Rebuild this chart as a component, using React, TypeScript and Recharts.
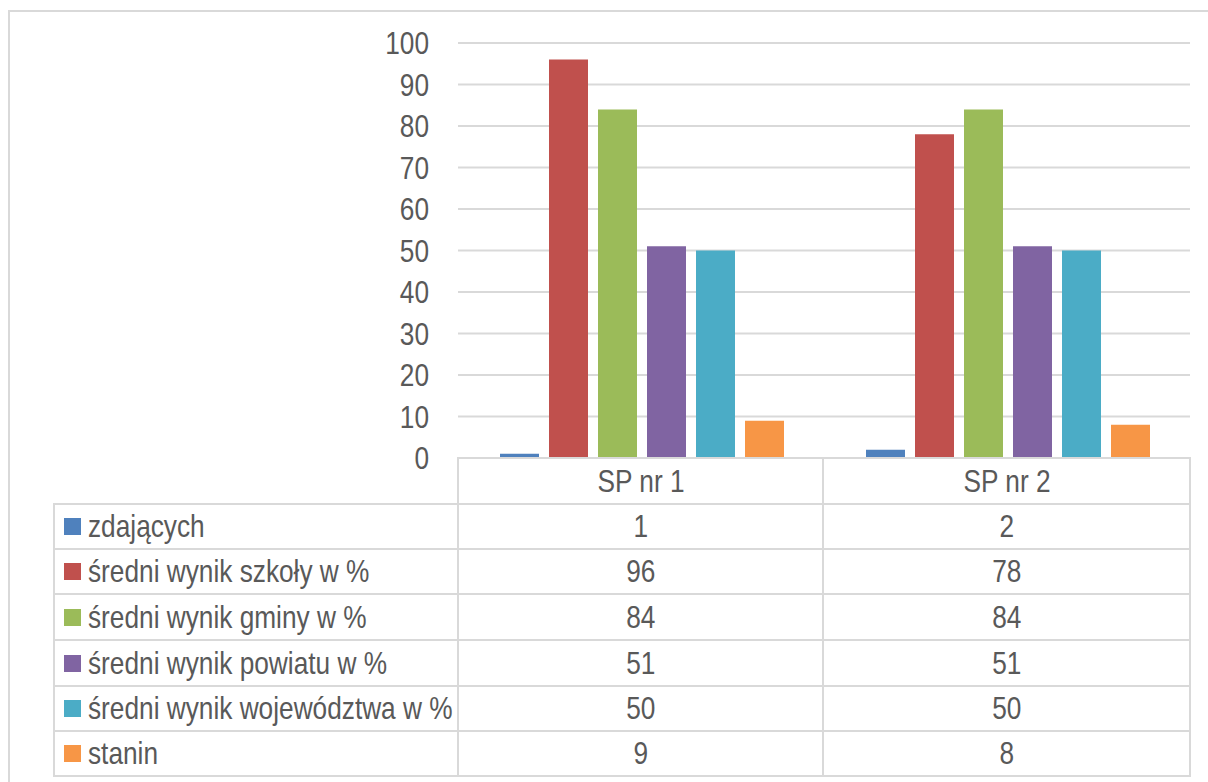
import React from 'react'
import { BarChart, Bar, XAxis, YAxis, CartesianGrid } from 'recharts'

const categories = ['SP nr 1', 'SP nr 2']
const seriesNames = [
  'zdających',
  'średni wynik szkoły w %',
  'średni wynik gminy w %',
  'średni wynik powiatu w %',
  'średni wynik województwa w %',
  'stanin',
]
const seriesColors = ['#4F81BD', '#C0504D', '#9BBB59', '#8064A2', '#4BACC6', '#F79646']
const zdajacych = [1, 2]
const sredniSzkoly = [96, 78]
const sredniGminy = [84, 84]
const sredniPowiatu = [51, 51]
const sredniWojewodztwa = [50, 50]
const stanin = [9, 8]
const yTicks = [0, 10, 20, 30, 40, 50, 60, 70, 80, 90, 100]

const seriesValues = [zdajacych, sredniSzkoly, sredniGminy, sredniPowiatu, sredniWojewodztwa, stanin]

const data = categories.map((name, i) => {
  const row: Record<string, string | number> = { name }
  seriesValues.forEach((vals, s) => {
    row[`s${s}`] = vals[i]
  })
  return row
})

// no Arial Narrow available: squeeze Liberation Sans horizontally
const FONT = "'Liberation Sans', Arial, sans-serif"
const FS = 32
const SQUEEZE = 0.82
const TEXT = '#595959'
const LINE = '#D9D9D9'

// table geometry (page pixels)
const tableLeft = 54
const colX = [54, 458, 823, 1190]
const rowY = [458, 504, 549, 594, 640, 686, 731, 776]

const hLine = (x1: number, x2: number, y: number, key: string) => (
  <div
    key={key}
    style={{ position: 'absolute', left: x1 - 1, top: y - 1, width: x2 - x1 + 2, height: 2, background: LINE }}
  />
)
const vLine = (x: number, y1: number, y2: number, key: string) => (
  <div
    key={key}
    style={{ position: 'absolute', left: x - 1, top: y1 - 1, width: 2, height: y2 - y1 + 2, background: LINE }}
  />
)

const YTick = (props: any) => {
  const { x, y, payload } = props
  return (
    <g transform={`translate(${x},${y}) scale(${SQUEEZE},1)`}>
      <text x={0} y={0} dy="0.355em" textAnchor="end" fontSize={FS} fill={TEXT} fontFamily={FONT}>
        {payload.value}
      </text>
    </g>
  )
}

const XTick = (props: any) => {
  const { x, y, payload } = props
  return (
    <g transform={`translate(${x},${y}) scale(${SQUEEZE},1)`}>
      <text x={0} y={0} dy="0.71em" textAnchor="middle" fontSize={FS} fill={TEXT} fontFamily={FONT}>
        {payload.value}
      </text>
    </g>
  )
}

const Narrow: React.FC<{ children: React.ReactNode; origin: string }> = ({ children, origin }) => (
  <span
    style={{
      display: 'inline-block',
      transform: `scaleX(${SQUEEZE})`,
      transformOrigin: origin,
      whiteSpace: 'nowrap',
    }}
  >
    {children}
  </span>
)

export default function App() {
  return (
    <div
      style={{
        position: 'absolute',
        left: 0,
        top: 0,
        width: 1208,
        height: 782,
        background: '#fff',
        fontFamily: FONT,
        overflow: 'hidden',
      }}
    >
      {/* outer chart frame */}
      {hLine(9, 1220, 11, 'frame-top')}
      {vLine(9, 11, 800, 'frame-left')}

      <div style={{ position: 'absolute', left: 0, top: 0 }}>
        <BarChart
          width={1208}
          height={782}
          data={data}
          margin={{ top: 43, right: 18, bottom: 0, left: 0 }}
          barCategoryGap={42}
          barGap={10}
        >
          <CartesianGrid vertical={false} stroke={LINE} strokeWidth={2} />
          <XAxis
            dataKey="name"
            height={324}
            axisLine={false}
            tickLine={false}
            tickSize={0}
            tickMargin={11}
            tick={<XTick />}
          />
          <YAxis
            width={458}
            domain={[0, 100]}
            ticks={yTicks}
            axisLine={false}
            tickLine={false}
            tickSize={0}
            tickMargin={29}
            tick={<YTick />}
            interval={0}
          />
          {seriesNames.map((n, s) => (
            <Bar key={n} dataKey={`s${s}`} name={n} fill={seriesColors[s]} isAnimationActive={false} />
          ))}
        </BarChart>
      </div>

      {/* data table lines */}
      {hLine(colX[1], colX[3], rowY[0], 'h0')}
      {rowY.slice(1).map((y, i) => hLine(tableLeft, colX[3], y, `h${i + 1}`))}
      {vLine(colX[0], rowY[1], rowY[rowY.length - 1], 'v0')}
      {colX.slice(1).map((x, i) => vLine(x, rowY[0], rowY[rowY.length - 1], `v${i + 1}`))}

      {/* data table rows */}
      {seriesNames.map((n, s) => {
        const top = rowY[s + 1]
        const h = rowY[s + 2] - top
        return (
          <React.Fragment key={n}>
            <div
              style={{
                position: 'absolute',
                left: 64,
                top: top + h / 2 - 8.5,
                width: 17,
                height: 17,
                background: seriesColors[s],
              }}
            />
            <div
              style={{
                position: 'absolute',
                left: 88,
                top,
                height: h,
                lineHeight: `${h}px`,
                fontSize: FS,
                color: TEXT,
                whiteSpace: 'nowrap',
              }}
            >
              <Narrow origin="left center">{n}</Narrow>
            </div>
            {categories.map((c, i) => (
              <div
                key={c}
                style={{
                  position: 'absolute',
                  left: colX[i + 1],
                  width: colX[i + 2] - colX[i + 1],
                  top,
                  height: h,
                  lineHeight: `${h}px`,
                  fontSize: FS,
                  color: TEXT,
                  textAlign: 'center',
                }}
              >
                <Narrow origin="center center">{seriesValues[s][i]}</Narrow>
              </div>
            ))}
          </React.Fragment>
        )
      })}
    </div>
  )
}
